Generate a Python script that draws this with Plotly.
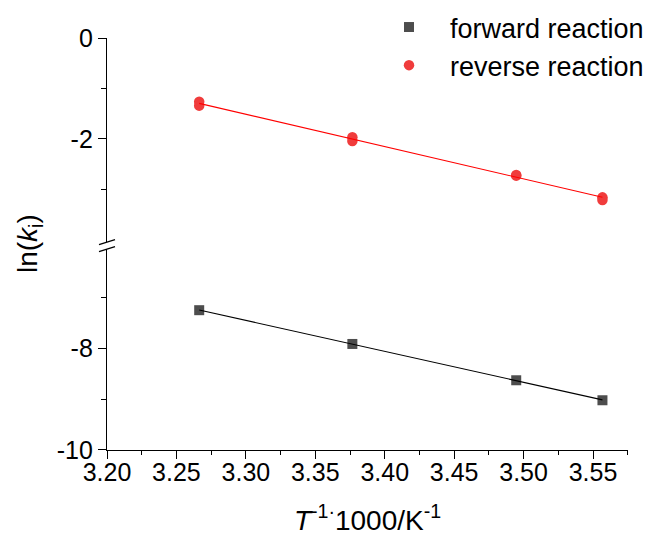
import numpy as np
import plotly.graph_objects as go

# ---- data ----
forward_x = [3.2664, 3.3767, 3.4947, 3.5568]
forward_ln_k = [-7.251, -7.915, -8.629, -9.022]

reverse_x = [3.2664, 3.2664, 3.3767, 3.3767, 3.4947, 3.4947, 3.5568, 3.5568]
reverse_ln_k = [-1.263, -1.342, -1.970, -2.044, -2.715, -2.730, -3.161, -3.214]

x_tick_vals = [3.20, 3.25, 3.30, 3.35, 3.40, 3.45, 3.50, 3.55]
x_tick_text = ["3.20", "3.25", "3.30", "3.35", "3.40", "3.45", "3.50", "3.55"]
x_minor_vals = [3.225, 3.275, 3.325, 3.375, 3.425, 3.475, 3.525, 3.575]

y_top_ticks = [0, -2]
y_top_text = ["0", "-2"]
y_top_minor = [-1, -3]
y_bot_ticks = [-8, -10]
y_bot_text = ["-8", "-10"]
y_bot_minor = [-7, -9]

legend_names = ["forward reaction", "reverse reaction"]

# linear fits (Arrhenius)
def fit_line(x, y):
    p = np.polyfit(x, y, 1)
    xs = np.array([min(x), max(x)])
    return xs, np.polyval(p, xs)

fx, fy = fit_line(forward_x, forward_ln_k)
rx, ry = fit_line(reverse_x, reverse_ln_k)

FONT = "Liberation Sans, Arial, sans-serif"

fig = go.Figure()
fig.add_trace(go.Scatter(x=forward_x, y=forward_ln_k, mode="markers", name=legend_names[0],
                         marker=dict(symbol="square", size=10, color="#4D4D4D", line=dict(width=0)),
                         xaxis="x", yaxis="y"))
fig.add_trace(go.Scatter(x=reverse_x, y=reverse_ln_k, mode="markers", name=legend_names[1],
                         marker=dict(symbol="circle", size=10.5, color="#F03C3C", line=dict(width=0)),
                         xaxis="x", yaxis="y2"))
fig.add_trace(go.Scatter(x=fx, y=fy, mode="lines", showlegend=False,
                         line=dict(color="black", width=1.1), xaxis="x", yaxis="y", hoverinfo="skip"))
fig.add_trace(go.Scatter(x=rx, y=ry, mode="lines", showlegend=False,
                         line=dict(color="#FF0000", width=1.1), xaxis="x", yaxis="y2", hoverinfo="skip"))

top_dom = [0.5044, 1.0]
bot_dom = [0.0, 0.4876]

common_axis = dict(showline=True, linecolor="black", linewidth=1.3, showgrid=False, zeroline=False,
                   ticks="outside", ticklen=8, tickwidth=1.3, tickcolor="black",
                   tickfont=dict(family=FONT, size=25, color="black"))

# page body has an 8px default margin, so the figure is 8px smaller and margins shifted
fig.update_layout(
    width=651, height=528,
    margin=dict(l=99, r=31, t=30, b=86, autoexpand=False),
    paper_bgcolor="white", plot_bgcolor="white",
    font=dict(family=FONT, color="black"),
    xaxis=dict(range=[3.20, 3.5752], tickmode="array", tickvals=x_tick_vals, ticktext=x_tick_text,
               anchor="y", ticklabelstandoff=-8,
               minor=dict(tickmode="array", tickvals=x_minor_vals, ticks="outside", ticklen=4,
                          tickwidth=1.3, tickcolor="black"),
               title=dict(text="<i>T</i><sup>-1·</sup>1000/K<sup>-1</sup>",
                          font=dict(family=FONT, size=28, color="black"), standoff=27),
               **common_axis),
    yaxis=dict(domain=bot_dom, range=[-10, -6.05], tickmode="array", tickvals=y_bot_ticks,
               ticktext=y_bot_text, anchor="x",
               minor=dict(tickmode="array", tickvals=y_bot_minor, ticks="outside", ticklen=5,
                          tickwidth=1.3, tickcolor="black"),
               **common_axis),
    yaxis2=dict(domain=top_dom, range=[-4.05, 0], tickmode="array", tickvals=y_top_ticks,
                ticktext=y_top_text, anchor="x",
                minor=dict(tickmode="array", tickvals=y_top_minor, ticks="outside", ticklen=5,
                           tickwidth=1.3, tickcolor="black"),
                **common_axis),
    legend=dict(x=0.501, y=1.085, xanchor="left", yanchor="top",
                font=dict(family=FONT, size=27, color="black"),
                bgcolor="rgba(0,0,0,0)", borderwidth=0, itemwidth=72, tracegroupgap=0),
    showlegend=True,
)

# y-axis title spanning both segments
fig.add_annotation(text="ln(<i>k</i><sub>i</sub>)", xref="paper", yref="paper",
                   x=(21 - 99) / 521, y=0.5, xanchor="center", yanchor="middle",
                   textangle=-90, showarrow=False,
                   font=dict(family=FONT, size=28, color="black"))

# axis break marks
for anchor in (top_dom[0], bot_dom[1]):
    fig.add_shape(type="line", xref="paper", yref="paper",
                  xsizemode="pixel", ysizemode="pixel",
                  xanchor=0, yanchor=anchor,
                  x0=-8, x1=8, y0=-2.5, y1=2.5,
                  line=dict(color="black", width=1.3))

fig.write_html("out.html")
